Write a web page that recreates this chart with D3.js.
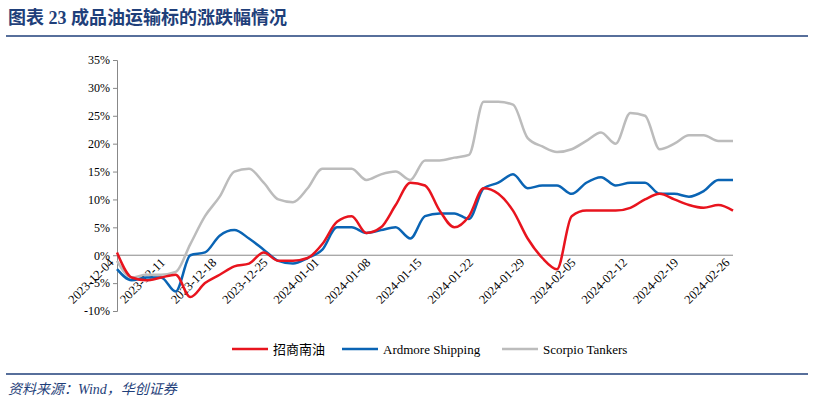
<!DOCTYPE html>
<html lang="zh">
<head>
<meta charset="UTF-8">
<title>成品油运输标的涨跌幅情况</title>
<style>
    body { margin: 0; background: #fff; }
    text { font-family: "Liberation Serif", "Noto Sans CJK SC", serif; }
</style>
<script src="https://d3js.org/d3.v7.min.js"></script>
</head>
<body>
<div class="graph"></div>
<script>
    // data, every 2 days from 2023-12-04
    const startDate = '2023-12-04'
    const dayStep = 2
    const zhaoshang = [0.5,-4,-4.5,-4,-3.5,-7.5,-5,-3.5,-2,-1.5,0.5,-1,-1,-0.5,2,6,7,4,5,9,13,12.5,8,5,7,12,11,8,3,-0.5,-2.5,7,8,8,8,8.5,10,11,10,9,8.5,9,8]
    const ardmore = [-2.5,-4.5,-4,-4,-6.5,0,0.5,3.5,4.5,3,1,-1,-1.5,-0.5,1,5,5,4,4.5,5,3,7,7.5,7.5,6.5,12,13,14.5,12,12.5,12.5,11,13,14,12.5,13,13,11,11,10.5,11.5,13.5,13.5]
    const scorpio = [-1,-4,-3.5,-3.5,-3,2,7,10.5,15,15.5,13,10,9.5,12,15.5,15.5,15.5,13.5,14.5,15,13.5,17,17,17.5,18,27.5,27.5,27,21,19.5,18.5,19,20.5,22,20,25.5,25,19,20,21.5,21.5,20.5,20.5]
    const tickDates = ['2023-12-04','2023-12-11','2023-12-18','2023-12-25','2024-01-01','2024-01-08','2024-01-15','2024-01-22','2024-01-29','2024-02-05','2024-02-12','2024-02-19','2024-02-26']
    const yTicks = [-10,-5,0,5,10,15,20,25,30,35]
    const seriesNames = ['招商南油', 'Ardmore Shipping', 'Scorpio Tankers']
    const colors = ['#e8141e', '#0a64b4', '#bcbcbc']

    const parse = d3.timeParse('%Y-%m-%d')
    const dates = zhaoshang.map((v, i) => d3.timeDay.offset(parse(startDate), i * dayStep))
    const series = [zhaoshang, ardmore, scorpio]

    const W = 814, H = 405
    const svg = d3.select('.graph').append('svg').attr('width', W).attr('height', H)

    // title + rules
    svg.append('text').attr('x', 8).attr('y', 24)
        .attr('fill', '#1f3f7a').attr('font-weight', 'bold').attr('font-size', 18)
        .attr('font-family', '"Noto Sans CJK SC", serif')
        .text('图表 23  成品油运输标的涨跌幅情况')
    svg.append('line').attr('x1', 6).attr('x2', 808).attr('y1', 36).attr('y2', 36)
        .attr('stroke', '#1f3f7a').attr('stroke-width', 1.5)
    svg.append('line').attr('x1', 6).attr('x2', 808).attr('y1', 374).attr('y2', 374)
        .attr('stroke', '#1f3f7a').attr('stroke-width', 1.5)
    svg.append('text').attr('x', 8).attr('y', 394)
        .attr('font-size', 14).attr('font-style', 'italic').attr('fill', '#1f3f7a')
        .attr('font-family', '"Noto Sans CJK SC", serif')
        .text('资料来源：Wind，华创证券')

    const x = d3.scaleTime().domain([dates[0], dates[dates.length - 1]]).range([117, 733])
    const y = d3.scaleLinear().domain([-10, 35]).range([311, 60])

    // y axis
    const ya = svg.append('g').attr('transform', 'translate(117,0)')
        .call(d3.axisLeft(y).tickValues(yTicks).tickFormat(d => d + '%').tickSize(4))
    ya.selectAll('text').attr('font-size', 12).attr('fill', '#000')
    ya.select('.domain').attr('stroke', '#888')
    ya.selectAll('.tick line').attr('stroke', '#888')

    // zero line + x labels
    svg.append('line').attr('x1', 117).attr('x2', 733).attr('y1', y(0)).attr('y2', y(0))
        .attr('stroke', '#888')
    const xa = svg.append('g').attr('transform', `translate(0,${y(0)})`)
        .call(d3.axisBottom(x).tickValues(tickDates.map(parse)).tickSize(0).tickFormat(d3.timeFormat('%Y-%m-%d')))
    xa.select('.domain').remove()
    xa.selectAll('text')
        .attr('font-size', 12.5).attr('fill', '#000')
        .attr('text-anchor', 'end').attr('dy', 0).attr('y', 0)
        .attr('transform', 'translate(-3,8) rotate(-45)')

    const line = d3.line().x((d, i) => x(dates[i])).y(d => y(d)).curve(d3.curveMonotoneX)
    ;[2, 1, 0].forEach(k => {
        svg.append('path').datum(series[k]).attr('d', line)
            .attr('fill', 'none').attr('stroke', colors[k]).attr('stroke-width', 2.5)
    })

    // legend
    const legX = [232, 342, 502]
    seriesNames.forEach((n, k) => {
        const g = svg.append('g').attr('transform', `translate(${legX[k]},349)`)
        g.append('line').attr('x1', 0).attr('x2', 36).attr('stroke', colors[k]).attr('stroke-width', 2.5)
        g.append('text').attr('x', 41).attr('y', 4.5).attr('font-size', 13).text(n)
    })
</script>
</body>
</html>
